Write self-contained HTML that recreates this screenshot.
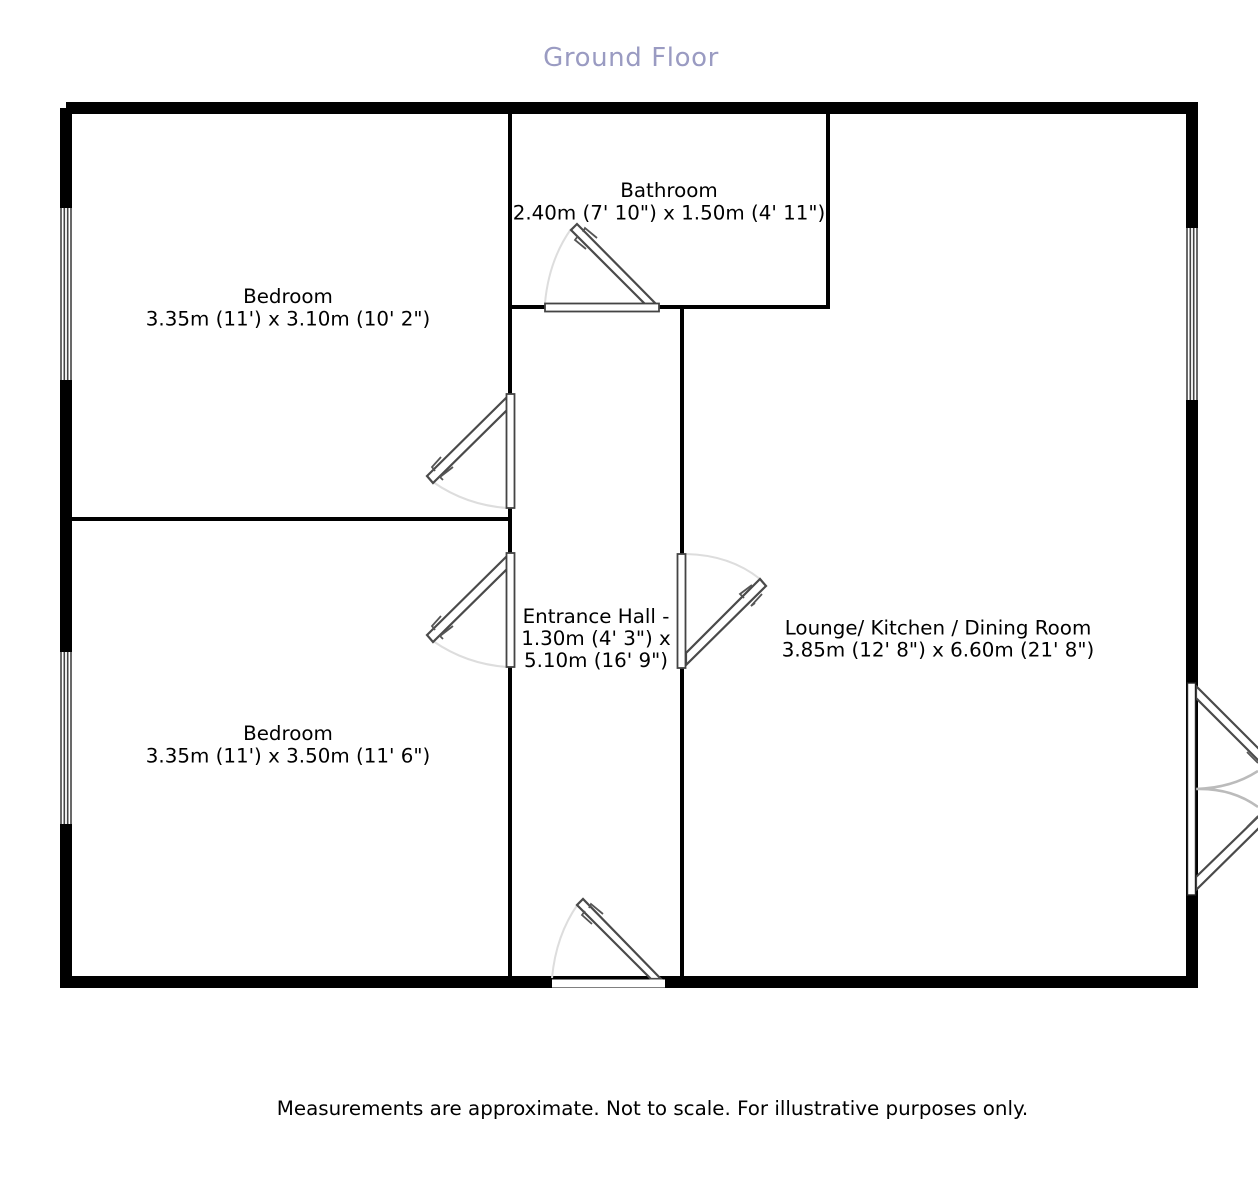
<!DOCTYPE html>
<html><head><meta charset="utf-8"><style>
html,body{margin:0;padding:0;background:#fff}
svg{display:block}
text{font-family:"DejaVu Sans",sans-serif;font-size:19.85px;fill:#000;text-anchor:middle}
.f{fill:#fff;stroke:#444;stroke-width:1.8}
.l{fill:#fff;stroke:#4a4a4a;stroke-width:2.2;stroke-linejoin:miter}
.t{fill:none;stroke:#555;stroke-width:1.8}
.a{fill:none;stroke:#ddd;stroke-width:2}
</style></head><body>
<svg width="1258" height="1181" viewBox="0 0 1258 1181" xmlns="http://www.w3.org/2000/svg">
<rect width="1258" height="1181" fill="#fff"/>
<text x="631" y="66" style="font-size:26px;fill:#9a9bc2;letter-spacing:.6px">Ground Floor</text>

<g fill="#000">
<rect x="66" y="102" width="1132" height="12"/>
<rect x="60" y="108" width="12" height="880"/>
<rect x="60" y="976" width="1138" height="12"/>
<rect x="1186" y="102" width="12" height="886"/>
<rect x="508" y="102" width="4" height="886"/>
<rect x="680" y="306" width="4" height="682"/>
<rect x="70" y="517" width="440" height="4"/>
<rect x="508" y="305" width="322" height="4"/>
<rect x="826" y="108" width="4" height="201"/>
</g>

<g fill="#fff">
<rect x="60" y="208" width="12" height="172"/>
<rect x="60" y="652" width="12" height="172"/>
<rect x="1186" y="228" width="12" height="172"/>
</g>
<g stroke="#444" stroke-width="1.6" fill="none">
<path d="M61 208V380M64.300 208V380M67.700 208V380M71 208V380M61 652V824M64.300 652V824M67.700 652V824M71 652V824M1187 228V400M1190.300 228V400M1193.700 228V400M1197 228V400"/>
</g>

<!-- Bedroom doors -->
<g>
<path class="a" d="M433 482Q466 505 507 508"/>
<path class="l" d="M507 397L427 476L433 483L507 410Z"/>
<path class="t" d="M435 471L432 467L441 457M443 480L440 477L453 467"/>
<rect class="f" x="506.500" y="394" width="8" height="114"/>
</g>
<g transform="translate(0 159)">
<path class="a" d="M433 482Q466 505 507 508"/>
<path class="l" d="M507 397L427 476L433 483L507 410Z"/>
<path class="t" d="M435 471L432 467L441 457M443 480L440 477L453 467"/>
<rect class="f" x="506.500" y="394" width="8" height="114"/>
</g>

<!-- Bathroom door -->
<path class="a" d="M545 303Q549 260 571 229"/>
<path class="l" d="M656 304L577 224L571 230L645 304Z"/>
<path class="t" d="M583 232L585 228L597 238M578 236L575 240L586 249"/>
<rect class="f" x="545" y="303.500" width="114" height="8"/>

<!-- Entrance door -->
<path class="a" d="M552 978Q556 935 578 904"/>
<path class="l" d="M661 979L583 899L577 905L651 979Z"/>
<path class="t" d="M589 908L591 904L603 914M585 911L582 915L592 924"/>
<rect x="552" y="979.500" width="113" height="8" fill="#fff"/>

<!-- Lounge door -->
<path class="a" d="M686 554Q730 555 760 579"/>
<path class="l" d="M686 653L760 579L766 586L686 665Z"/>
<path class="t" d="M744 598L740 594L752 585M755 603L751 606L762 594"/>
<rect class="f" x="677.500" y="554" width="8" height="114"/>

<!-- French doors -->
<path class="l" d="M1196 686L1262 752L1262 764L1196 698Z"/>
<path class="t" d="M1247 752L1258 763"/>
<path class="l" d="M1196 877L1262 813L1262 825L1196 890Z"/>
<path class="t" d="M1247 827L1258 816"/>
<path d="M1196 789Q1232 788 1258 771M1196 789Q1232 788 1258 807" fill="none" stroke="#bbb" stroke-width="2.6"/>
<rect x="1187.500" y="683" width="8" height="212" fill="#fff" stroke="#222" stroke-width="1.4"/>

<text x="288" y="303">Bedroom</text>
<text x="288" y="325.500">3.35m (11') x 3.10m (10' 2")</text>
<text x="288" y="740">Bedroom</text>
<text x="288" y="762.500">3.35m (11') x 3.50m (11' 6")</text>
<text x="669" y="197">Bathroom</text>
<text x="669" y="219.500">2.40m (7' 10") x 1.50m (4' 11")</text>
<text x="596" y="623">Entrance Hall -</text>
<text x="596" y="645">1.30m (4' 3") x</text>
<text x="596" y="667">5.10m (16' 9")</text>
<text x="938" y="634.500">Lounge/ Kitchen / Dining Room</text>
<text x="938" y="656.500">3.85m (12' 8") x 6.60m (21' 8")</text>
<text x="652.500" y="1115">Measurements are approximate. Not to scale. For illustrative purposes only.</text>
</svg>
</body></html>
